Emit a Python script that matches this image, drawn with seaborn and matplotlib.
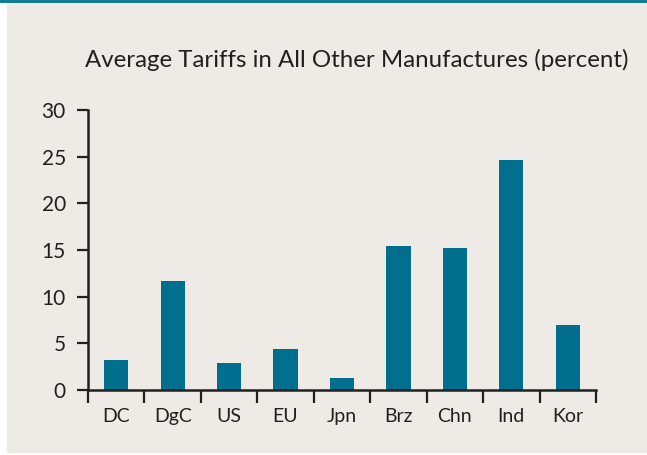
import matplotlib
matplotlib.use("Agg")
import matplotlib.pyplot as plt
import seaborn as sns
from matplotlib.patches import Rectangle
from matplotlib.ticker import FixedLocator, NullFormatter

# data
countries = ["DC", "DgC", "US", "EU", "Jpn", "Brz", "Chn", "Ind", "Kor"]
tariffs = [3.2, 11.7, 2.9, 4.4, 1.3, 15.4, 15.2, 24.6, 7.0]
y_ticks = [0, 5, 10, 15, 20, 25, 30]

bg = "#EEEBE6"
bar_color = "#006F8E"
ink = "#231F20"

sns.set_style("ticks")
plt.rcParams["font.family"] = ["Lato", "DejaVu Sans"]

fig = plt.figure(figsize=(6.47, 4.55), dpi=100, facecolor="white")
# beige panel + teal rule on top
fig.patches.append(Rectangle((7 / 647, 0.004), 1, 1 - 2.5 / 455, transform=fig.transFigure,
                             facecolor=bg, edgecolor="none", zorder=-10))
fig.patches.append(Rectangle((0, 1 - 2.5 / 455), 1, 2.5 / 455, transform=fig.transFigure,
                             facecolor="#0F7D98", edgecolor="none", zorder=-9))

ax = fig.add_axes([88 / 647, 65 / 455, 508 / 647, 280 / 455])
ax.set_facecolor("none")

sns.barplot(x=countries, y=tariffs, color=bar_color, saturation=1, width=0.43,
            linewidth=0, ax=ax)

ax.set_xlim(-0.5, len(countries) - 0.5)
ax.set_ylim(0, 30)
ax.set_yticks(y_ticks)
ax.set_yticklabels([str(t) for t in y_ticks], fontsize=15, color=ink)

# ticks at category boundaries, labels at centres
ax.xaxis.set_major_locator(FixedLocator([i - 0.5 for i in range(len(countries) + 1)]))
ax.xaxis.set_major_formatter(NullFormatter())
ax.xaxis.set_minor_locator(FixedLocator(list(range(len(countries)))))
ax.set_xticklabels(countries, minor=True, fontsize=14, color=ink)
ax.tick_params(axis="x", which="major", length=9, width=1.6, color=ink, direction="out")
ax.tick_params(axis="x", which="minor", length=0, pad=13)
ax.tick_params(axis="y", length=8, width=1.6, color=ink, pad=8)

for s in ["top", "right"]:
    ax.spines[s].set_visible(False)
for s in ["left", "bottom"]:
    ax.spines[s].set_linewidth(1.8)
    ax.spines[s].set_color(ink)

ax.set_xlabel("")
ax.set_ylabel("")

fig.text(357 / 647, 1 - 60 / 455, "Average Tariffs in All Other Manufactures (percent)",
         ha="center", va="center", fontsize=17.3, color=ink)

fig.savefig("out.png", dpi=100, facecolor=fig.get_facecolor())
